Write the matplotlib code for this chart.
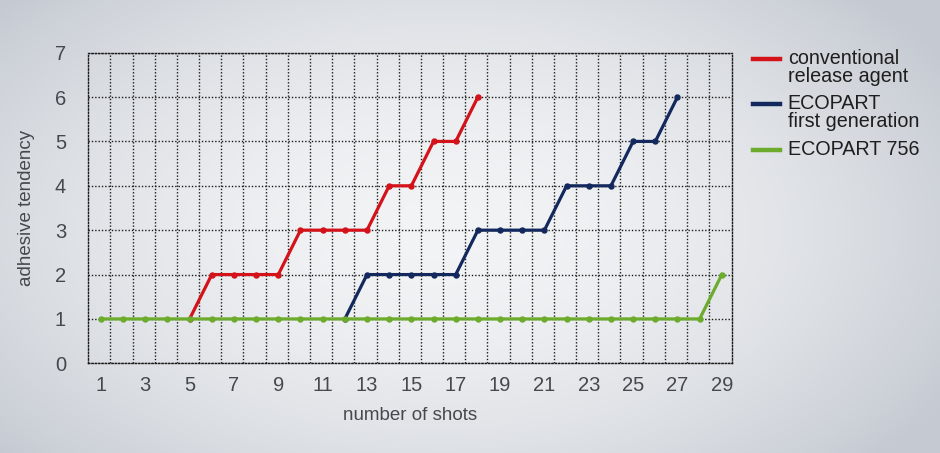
"""Adhesive tendency vs. number of shots for three release agents."""

import numpy as np
import matplotlib

matplotlib.use("Agg")
import matplotlib.pyplot as plt
from matplotlib.lines import Line2D

series_names = ["conventional\nrelease agent", "ECOPART\nfirst generation", "ECOPART 756"]
series_colors = ["#d3121a", "#13285c", "#6cab2c"]

conventional_shots = list(range(5, 19))
conventional_values = [1, 2, 2, 2, 2, 3, 3, 3, 3, 4, 4, 5, 5, 6]

first_gen_shots = list(range(12, 28))
first_gen_values = [1, 2, 2, 2, 2, 2, 3, 3, 3, 3, 4, 4, 4, 5, 5, 6]

eco756_shots = list(range(1, 30))
eco756_values = [1] * 28 + [2]

x_ticks = list(range(1, 30, 2))
y_ticks = list(range(0, 8))

tick_font = "Liberation Sans"
text_font = "Liberation Sans"
text_color = "#45484d"

fig = plt.figure(figsize=(9.4, 4.53), dpi=100)

# radial grey background, light in the middle of the chart
bg = fig.add_axes([0, 0, 1, 1], zorder=-10)
yy, xx = np.mgrid[0:453, 0:940]
dist = np.sqrt(((xx - 440) / 580.0) ** 2 + ((yy - 230) / 340.0) ** 2)
dist = np.clip(dist, 0, 1)
light = np.array([0.950, 0.955, 0.962])
dark = np.array([0.775, 0.795, 0.825])
img = light[None, None, :] + (dark - light)[None, None, :] * dist[..., None] ** 1.8
bg.imshow(img, aspect="auto", extent=[0, 1, 0, 1], origin="upper")
bg.axis("off")

ax = fig.add_axes([0.0939, 0.198, 0.6851, 0.6857])
ax.patch.set_alpha(0)

series = [
    (conventional_shots, conventional_values),
    (first_gen_shots, first_gen_values),
    (eco756_shots, eco756_values),
]
for (xs, ys), color in zip(series, series_colors):
    ax.plot(xs, ys, color=color, linewidth=2.3, marker="o", markersize=3.6,
            solid_joinstyle="round", zorder=3)

ax.set_xlim(0.43, 29.47)
ax.set_ylim(0, 7)
ax.set_xticks(x_ticks)
ax.set_yticks(y_ticks)
ax.set_xticks(np.arange(1.43, 29.4, 1.0), minor=True)
ax.tick_params(which="both", length=0)
ax.tick_params(axis="x", pad=9)
ax.tick_params(axis="y", pad=16)
for lab in ax.get_xticklabels() + ax.get_yticklabels():
    lab.set_fontfamily(tick_font)
    lab.set_fontsize(14.5)
    lab.set_color(text_color)

dots = (0, (1, 1.4))
ax.grid(True, which="major", axis="y", color="#1a1a1a", linestyle=dots, linewidth=1.0)
ax.grid(True, which="minor", axis="x", color="#1a1a1a", linestyle=dots, linewidth=1.0)
for spine in ax.spines.values():
    spine.set_linestyle(dots)
    spine.set_linewidth(1.0)
    spine.set_color("#1a1a1a")

ax.set_xlabel("number of shots", fontfamily=tick_font, fontsize=13.5,
              color=text_color, labelpad=9)
ax.set_ylabel("adhesive tendency", fontfamily=tick_font, fontsize=13.5,
              color=text_color, labelpad=14)

# legend on the right, handles aligned with the first text line
legend_y = [0.870, 0.770, 0.669]
for name, color, ly in zip(series_names, series_colors, legend_y):
    fig.add_artist(Line2D([0.801, 0.830], [ly, ly], color=color, linewidth=3.2,
                          transform=fig.transFigure))
    fig.text(0.838, ly + 0.022, name, fontfamily=text_font, fontsize=14.2,
             color="#1e1e1e", va="top", ha="left", linespacing=0.92)

fig.savefig("out.png", dpi=100)
